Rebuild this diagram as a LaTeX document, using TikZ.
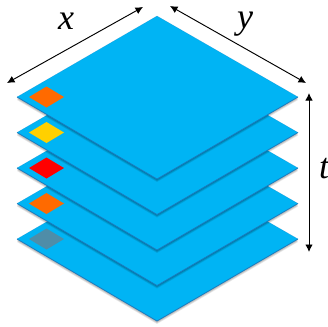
\documentclass[tikz,border=0pt]{standalone}
\usepackage{fontspec}
\setmainfont{Liberation Serif}
\usetikzlibrary{arrows.meta}
\definecolor{planeblue}{HTML}{00B4F4}
\definecolor{planeedge}{HTML}{1A7CC0}
\definecolor{cellorange}{HTML}{FF6A00}
\definecolor{cellyellow}{HTML}{FFD000}
\definecolor{cellred}{HTML}{FF0000}
\definecolor{cellgray}{HTML}{4F8DA8}
\tikzset{
  dimarrow/.style={black,line width=0.95pt,{Latex[length=7.5pt,width=7.5pt]}-{Latex[length=7.5pt,width=7.5pt]}},
  planeface/.style={fill=planeblue,draw=planeedge,draw opacity=0.35,line width=0.4pt,line join=round},
  planelow/.style={draw=planeedge,line width=0.7pt,line join=round},
  planeshade/.style={fill=black,fill opacity=0.09,draw=none},
  dimlabel/.style={inner sep=0pt,font=\itshape\fontsize{36}{36}\selectfont}
}
\newcommand{\plane}[1]{%
  \foreach \d/\e in {3/2.2,2.2/1.6,1.5/1.1,0.8/0.6}{
    \fill[planeshade] (17,#1+\d) -- (157,#1-81+\e) -- (298,#1+\d) -- (157,#1+82+\d) -- cycle;
  }
  \draw[planeface] (17,#1) -- (157,#1-81) -- (298,#1) -- (157,#1+82) -- cycle;
  \draw[planelow] (17,#1) -- (157,#1+82) -- (298,#1);
}
\newcommand{\cell}[2]{%
  \fill[#2] (29,#1) -- (46.5,#1-10.5) -- (64,#1) -- (46.5,#1+10.5) -- cycle;
}
\begin{document}
\begin{tikzpicture}[x=1pt,y=-1pt]
\useasboundingbox (0,0) rectangle (328,326);
\plane{239}\cell{239}{cellgray}
\plane{203.5}\cell{203.5}{cellorange}
\plane{168}\cell{168}{cellred}
\plane{132.5}\cell{132.5}{cellyellow}
\plane{97}\cell{97}{cellorange}
\coordinate (xa) at (7,83);
\coordinate (xb) at (143,7);
\coordinate (ya) at (170,6);
\coordinate (yb) at (306,83);
\coordinate (ta) at (309,93);
\coordinate (tb) at (309,252);
\draw[dimarrow] (xa) -- (xb);
\draw[dimarrow] (ya) -- (yb);
\draw[dimarrow] (ta) -- (tb);
\node[dimlabel] (xl) at (66,21) {x};
\node[dimlabel] (yl) at (245,24) {y};
\node[dimlabel] (tl) at (324,169) {t};
\end{tikzpicture}
\end{document}
